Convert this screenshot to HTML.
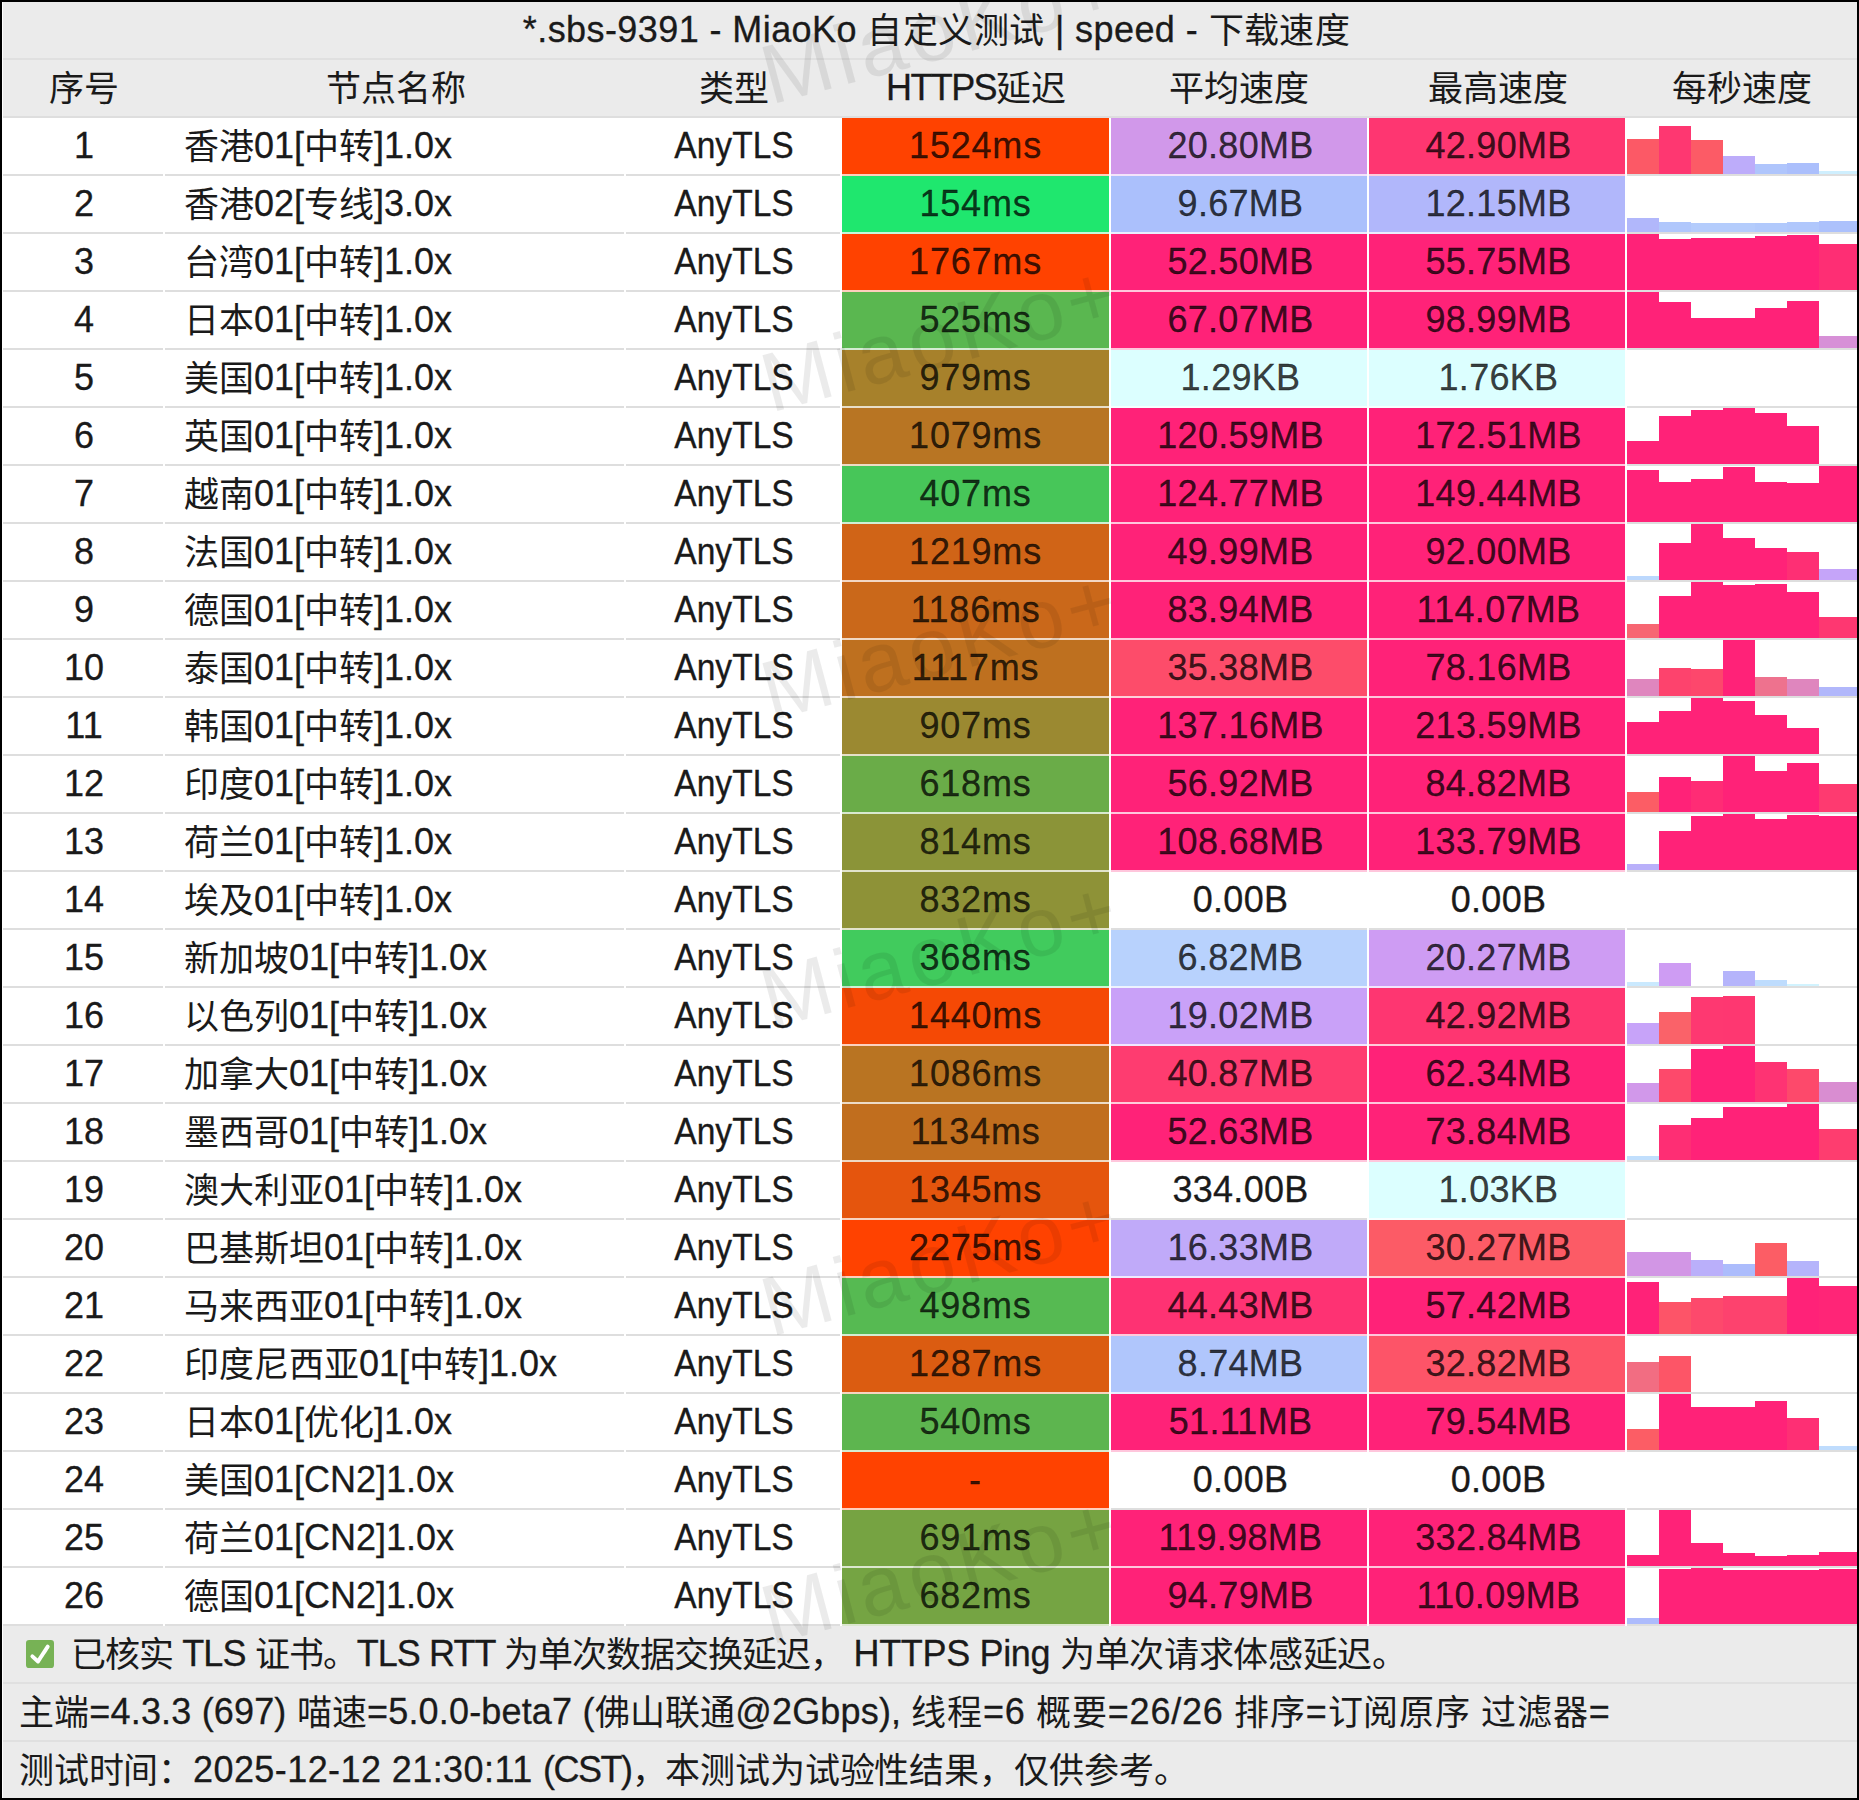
<!DOCTYPE html>
<html lang="zh-CN"><head><meta charset="utf-8"><title>MiaoKo speed</title>
<style>
*{box-sizing:border-box;margin:0;padding:0}
html,body{width:1859px;height:1800px;overflow:hidden;background:#000}
body{font-family:"Liberation Sans",sans-serif;font-size:36px;color:#1a1a1a;position:relative;-webkit-text-stroke:.3px}
.z{font-size:35px;position:relative;top:1px;-webkit-text-stroke:0}
#f{position:absolute;left:2px;top:2px;width:1855px;height:1796px;background:#fff;overflow:hidden}
.g{position:absolute;left:1px;right:0;background:#ebebeb}
.ln{position:absolute;left:1px;right:0;height:2px;background:#dedede}
.t{position:absolute;white-space:pre;height:56px;line-height:56px}
.c{text-align:center}
.cell{position:absolute;height:56px;line-height:56px;text-align:center;white-space:nowrap;font-size:36px;color:rgba(0,0,0,.77)}
.n{font-size:36px}
.ty{transform:scaleX(.933)}
.sp{position:absolute;height:56px;overflow:hidden}
.sp div{position:absolute;bottom:0}
.wm{-webkit-text-stroke:0;position:absolute;width:368px;height:84px;font-size:84px;letter-spacing:4.9px;color:rgba(0,0,0,.08);transform:rotate(-15deg);white-space:nowrap;line-height:84px}
</style></head><body>
<div id="f">
<div class="g" style="top:0;height:116px"></div>
<div class="g" style="top:1624px;height:172px"></div>
<div class="ln" style="top:56px;background:#e0e0e0"></div>
<div class="ln" style="top:114px;background:#dedede"></div>
<div class="t c" style="left:7px;width:1855px;top:0px;letter-spacing:.42px">*.sbs-9391 - MiaoKo <span class="z">自定义测试</span> | speed - <span class="z">下载速度</span></div>
<div class="t c" style="left:1px;width:162px;top:58px"><span class="z">序号</span></div>
<div class="t c" style="left:163px;width:461px;top:58px"><span class="z">节点名称</span></div>
<div class="t c" style="left:624px;width:216px;top:58px"><span class="z">类型</span></div>
<div class="t c" style="left:840px;width:268px;top:58px"><span style="letter-spacing:-1.6px">HTTPS</span><span class="z">延迟</span></div>
<div class="t c" style="left:1108px;width:258px;top:58px"><span class="z">平均速度</span></div>
<div class="t c" style="left:1366px;width:259px;top:58px"><span class="z">最高速度</span></div>
<div class="t c" style="left:1625px;width:230px;top:58px"><span class="z">每秒速度</span></div>
<div class="ln" style="top:172px"></div>
<div class="t c" style="left:1px;width:162px;top:116px">1</div>
<div class="t" style="left:182px;top:116px"><span class="z">香港</span>01[<span class="z">中转</span>]1.0x</div>
<div class="t c ty" style="left:624px;width:216px;top:116px">AnyTLS</div>
<div class="cell" style="left:840px;width:267px;top:116px;background:#ff4200;box-shadow:0 2px 0 #ffcebd;letter-spacing:.8px">1524ms</div>
<div class="cell" style="left:1109px;width:256px;top:116px;background:#d198ea;box-shadow:0 2px 0 #f3e4fa;letter-spacing:.3px;padding-left:3px">20.80MB</div>
<div class="cell" style="left:1367px;width:256px;top:116px;background:#fe3671;box-shadow:0 2px 0 #ffcbda;letter-spacing:.3px;padding-left:3px">42.90MB</div>
<div class="sp" style="left:1625px;width:230px;top:116px"><div style="left:0px;width:32px;height:35px;background:#fc5966"></div><div style="left:32px;width:32px;height:48px;background:#fe3771"></div><div style="left:64px;width:32px;height:34px;background:#fc5b66"></div><div style="left:96px;width:32px;height:18px;background:#bdacfa"></div><div style="left:128px;width:32px;height:10px;background:#afc5fc"></div><div style="left:160px;width:32px;height:11px;background:#abbffc"></div><div style="left:192px;width:38px;height:3px;background:#cfeffe"></div></div>
<div class="ln" style="top:230px"></div>
<div class="t c" style="left:1px;width:162px;top:174px">2</div>
<div class="t" style="left:182px;top:174px"><span class="z">香港</span>02[<span class="z">专线</span>]3.0x</div>
<div class="t c ty" style="left:624px;width:216px;top:174px">AnyTLS</div>
<div class="cell" style="left:840px;width:267px;top:174px;background:#1fe76e;box-shadow:0 2px 0 #c5f9d9;letter-spacing:.8px">154ms</div>
<div class="cell" style="left:1109px;width:256px;top:174px;background:#abc0fc;box-shadow:0 2px 0 #e9effe;letter-spacing:.3px;padding-left:3px">9.67MB</div>
<div class="cell" style="left:1367px;width:256px;top:174px;background:#b1b7fb;box-shadow:0 2px 0 #ebecfe;letter-spacing:.3px;padding-left:3px">12.15MB</div>
<div class="sp" style="left:1625px;width:230px;top:174px"><div style="left:0px;width:32px;height:14px;background:#b1b7fb"></div><div style="left:32px;width:32px;height:10px;background:#b0c7fc"></div><div style="left:64px;width:32px;height:9px;background:#b4ccfc"></div><div style="left:96px;width:32px;height:9px;background:#b4ccfc"></div><div style="left:128px;width:32px;height:9px;background:#b1c9fc"></div><div style="left:160px;width:32px;height:10px;background:#b0c7fc"></div><div style="left:192px;width:38px;height:11px;background:#acc1fc"></div></div>
<div class="ln" style="top:288px"></div>
<div class="t c" style="left:1px;width:162px;top:232px">3</div>
<div class="t" style="left:182px;top:232px"><span class="z">台湾</span>01[<span class="z">中转</span>]1.0x</div>
<div class="t c ty" style="left:624px;width:216px;top:232px">AnyTLS</div>
<div class="cell" style="left:840px;width:267px;top:232px;background:#ff4200;box-shadow:0 2px 0 #ffcebd;letter-spacing:.8px">1767ms</div>
<div class="cell" style="left:1109px;width:256px;top:232px;background:#ff2278;box-shadow:0 2px 0 #ffc6dc;letter-spacing:.3px;padding-left:3px">52.50MB</div>
<div class="cell" style="left:1367px;width:256px;top:232px;background:#ff2278;box-shadow:0 2px 0 #ffc6dc;letter-spacing:.3px;padding-left:3px">55.75MB</div>
<div class="sp" style="left:1625px;width:230px;top:232px"><div style="left:0px;width:32px;height:56px;background:#ff2278"></div><div style="left:32px;width:32px;height:51px;background:#ff2278"></div><div style="left:64px;width:32px;height:52px;background:#ff2278"></div><div style="left:96px;width:32px;height:52px;background:#ff2278"></div><div style="left:128px;width:32px;height:54px;background:#ff2278"></div><div style="left:160px;width:32px;height:55px;background:#ff2278"></div><div style="left:192px;width:38px;height:46px;background:#fe2e74"></div></div>
<div class="ln" style="top:346px"></div>
<div class="t c" style="left:1px;width:162px;top:290px">4</div>
<div class="t" style="left:182px;top:290px"><span class="z">日本</span>01[<span class="z">中转</span>]1.0x</div>
<div class="t c ty" style="left:624px;width:216px;top:290px">AnyTLS</div>
<div class="cell" style="left:840px;width:267px;top:290px;background:#5ab750;box-shadow:0 2px 0 #d4ecd2;letter-spacing:.8px">525ms</div>
<div class="cell" style="left:1109px;width:256px;top:290px;background:#ff2278;box-shadow:0 2px 0 #ffc6dc;letter-spacing:.3px;padding-left:3px">67.07MB</div>
<div class="cell" style="left:1367px;width:256px;top:290px;background:#ff2278;box-shadow:0 2px 0 #ffc6dc;letter-spacing:.3px;padding-left:3px">98.99MB</div>
<div class="sp" style="left:1625px;width:230px;top:290px"><div style="left:0px;width:32px;height:56px;background:#ff2278"></div><div style="left:32px;width:32px;height:46px;background:#ff2278"></div><div style="left:64px;width:32px;height:30px;background:#ff2278"></div><div style="left:96px;width:32px;height:30px;background:#ff2278"></div><div style="left:128px;width:32px;height:40px;background:#ff2278"></div><div style="left:160px;width:32px;height:47px;background:#ff2278"></div><div style="left:192px;width:38px;height:12px;background:#d790d7"></div></div>
<div class="ln" style="top:404px"></div>
<div class="t c" style="left:1px;width:162px;top:348px">5</div>
<div class="t" style="left:182px;top:348px"><span class="z">美国</span>01[<span class="z">中转</span>]1.0x</div>
<div class="t c ty" style="left:624px;width:216px;top:348px">AnyTLS</div>
<div class="cell" style="left:840px;width:267px;top:348px;background:#a7812b;box-shadow:0 2px 0 #e8dec8;letter-spacing:.8px">979ms</div>
<div class="cell" style="left:1109px;width:256px;top:348px;background:#dcffff;box-shadow:0 2px 0 #f6ffff;letter-spacing:.3px;padding-left:3px">1.29KB</div>
<div class="cell" style="left:1367px;width:256px;top:348px;background:#dcffff;box-shadow:0 2px 0 #f6ffff;letter-spacing:.3px;padding-left:3px">1.76KB</div>
<div class="ln" style="top:462px"></div>
<div class="t c" style="left:1px;width:162px;top:406px">6</div>
<div class="t" style="left:182px;top:406px"><span class="z">英国</span>01[<span class="z">中转</span>]1.0x</div>
<div class="t c ty" style="left:624px;width:216px;top:406px">AnyTLS</div>
<div class="cell" style="left:840px;width:267px;top:406px;background:#b87523;box-shadow:0 2px 0 #eddbc6;letter-spacing:.8px">1079ms</div>
<div class="cell" style="left:1109px;width:256px;top:406px;background:#ff2278;box-shadow:0 2px 0 #ffc6dc;letter-spacing:.3px;padding-left:3px">120.59MB</div>
<div class="cell" style="left:1367px;width:256px;top:406px;background:#ff2278;box-shadow:0 2px 0 #ffc6dc;letter-spacing:.3px;padding-left:3px">172.51MB</div>
<div class="sp" style="left:1625px;width:230px;top:406px"><div style="left:0px;width:32px;height:23px;background:#ff2278"></div><div style="left:32px;width:32px;height:48px;background:#ff2278"></div><div style="left:64px;width:32px;height:54px;background:#ff2278"></div><div style="left:96px;width:32px;height:56px;background:#ff2278"></div><div style="left:128px;width:32px;height:51px;background:#ff2278"></div><div style="left:160px;width:32px;height:38px;background:#ff2278"></div></div>
<div class="ln" style="top:520px"></div>
<div class="t c" style="left:1px;width:162px;top:464px">7</div>
<div class="t" style="left:182px;top:464px"><span class="z">越南</span>01[<span class="z">中转</span>]1.0x</div>
<div class="t c ty" style="left:624px;width:216px;top:464px">AnyTLS</div>
<div class="cell" style="left:840px;width:267px;top:464px;background:#47c659;box-shadow:0 2px 0 #cff0d4;letter-spacing:.8px">407ms</div>
<div class="cell" style="left:1109px;width:256px;top:464px;background:#ff2278;box-shadow:0 2px 0 #ffc6dc;letter-spacing:.3px;padding-left:3px">124.77MB</div>
<div class="cell" style="left:1367px;width:256px;top:464px;background:#ff2278;box-shadow:0 2px 0 #ffc6dc;letter-spacing:.3px;padding-left:3px">149.44MB</div>
<div class="sp" style="left:1625px;width:230px;top:464px"><div style="left:0px;width:32px;height:52px;background:#ff2278"></div><div style="left:32px;width:32px;height:40px;background:#ff2278"></div><div style="left:64px;width:32px;height:43px;background:#ff2278"></div><div style="left:96px;width:32px;height:55px;background:#ff2278"></div><div style="left:128px;width:32px;height:40px;background:#ff2278"></div><div style="left:160px;width:32px;height:39px;background:#ff2278"></div><div style="left:192px;width:38px;height:56px;background:#ff2278"></div></div>
<div class="ln" style="top:578px"></div>
<div class="t c" style="left:1px;width:162px;top:522px">8</div>
<div class="t" style="left:182px;top:522px"><span class="z">法国</span>01[<span class="z">中转</span>]1.0x</div>
<div class="t c ty" style="left:624px;width:216px;top:522px">AnyTLS</div>
<div class="cell" style="left:840px;width:267px;top:522px;background:#d06417;box-shadow:0 2px 0 #f3d7c3;letter-spacing:.8px">1219ms</div>
<div class="cell" style="left:1109px;width:256px;top:522px;background:#ff2278;box-shadow:0 2px 0 #ffc6dc;letter-spacing:.3px;padding-left:3px">49.99MB</div>
<div class="cell" style="left:1367px;width:256px;top:522px;background:#ff2278;box-shadow:0 2px 0 #ffc6dc;letter-spacing:.3px;padding-left:3px">92.00MB</div>
<div class="sp" style="left:1625px;width:230px;top:522px"><div style="left:0px;width:32px;height:4px;background:#bcd8fd"></div><div style="left:32px;width:32px;height:37px;background:#ff2278"></div><div style="left:64px;width:32px;height:56px;background:#ff2278"></div><div style="left:96px;width:32px;height:42px;background:#ff2278"></div><div style="left:128px;width:32px;height:32px;background:#ff2278"></div><div style="left:160px;width:32px;height:28px;background:#fe2f74"></div><div style="left:192px;width:38px;height:11px;background:#c5a4f9"></div></div>
<div class="ln" style="top:636px"></div>
<div class="t c" style="left:1px;width:162px;top:580px">9</div>
<div class="t" style="left:182px;top:580px"><span class="z">德国</span>01[<span class="z">中转</span>]1.0x</div>
<div class="t c ty" style="left:624px;width:216px;top:580px">AnyTLS</div>
<div class="cell" style="left:840px;width:267px;top:580px;background:#ca681a;box-shadow:0 2px 0 #f1d8c3;letter-spacing:.8px">1186ms</div>
<div class="cell" style="left:1109px;width:256px;top:580px;background:#ff2278;box-shadow:0 2px 0 #ffc6dc;letter-spacing:.3px;padding-left:3px">83.94MB</div>
<div class="cell" style="left:1367px;width:256px;top:580px;background:#ff2278;box-shadow:0 2px 0 #ffc6dc;letter-spacing:.3px;padding-left:3px">114.07MB</div>
<div class="sp" style="left:1625px;width:230px;top:580px"><div style="left:0px;width:32px;height:14px;background:#f76672"></div><div style="left:32px;width:32px;height:42px;background:#ff2278"></div><div style="left:64px;width:32px;height:56px;background:#ff2278"></div><div style="left:96px;width:32px;height:53px;background:#ff2278"></div><div style="left:128px;width:32px;height:54px;background:#ff2278"></div><div style="left:160px;width:32px;height:46px;background:#ff2278"></div><div style="left:192px;width:38px;height:21px;background:#fe3771"></div></div>
<div class="ln" style="top:694px"></div>
<div class="t c" style="left:1px;width:162px;top:638px">10</div>
<div class="t" style="left:182px;top:638px"><span class="z">泰国</span>01[<span class="z">中转</span>]1.0x</div>
<div class="t c ty" style="left:624px;width:216px;top:638px">AnyTLS</div>
<div class="cell" style="left:840px;width:267px;top:638px;background:#be701f;box-shadow:0 2px 0 #eedac5;letter-spacing:.8px">1117ms</div>
<div class="cell" style="left:1109px;width:256px;top:638px;background:#fd4c6a;box-shadow:0 2px 0 #fed0d8;letter-spacing:.3px;padding-left:3px">35.38MB</div>
<div class="cell" style="left:1367px;width:256px;top:638px;background:#ff2278;box-shadow:0 2px 0 #ffc6dc;letter-spacing:.3px;padding-left:3px">78.16MB</div>
<div class="sp" style="left:1625px;width:230px;top:638px"><div style="left:0px;width:32px;height:17px;background:#df86be"></div><div style="left:32px;width:32px;height:28px;background:#fd436d"></div><div style="left:64px;width:32px;height:27px;background:#fd476c"></div><div style="left:96px;width:32px;height:56px;background:#ff2278"></div><div style="left:128px;width:32px;height:19px;background:#ee728e"></div><div style="left:160px;width:32px;height:17px;background:#df86be"></div><div style="left:192px;width:38px;height:9px;background:#b1b7fb"></div></div>
<div class="ln" style="top:752px"></div>
<div class="t c" style="left:1px;width:162px;top:696px">11</div>
<div class="t" style="left:182px;top:696px"><span class="z">韩国</span>01[<span class="z">中转</span>]1.0x</div>
<div class="t c ty" style="left:624px;width:216px;top:696px">AnyTLS</div>
<div class="cell" style="left:840px;width:267px;top:696px;background:#9b8931;box-shadow:0 2px 0 #e5e0c9;letter-spacing:.8px">907ms</div>
<div class="cell" style="left:1109px;width:256px;top:696px;background:#ff2278;box-shadow:0 2px 0 #ffc6dc;letter-spacing:.3px;padding-left:3px">137.16MB</div>
<div class="cell" style="left:1367px;width:256px;top:696px;background:#ff2278;box-shadow:0 2px 0 #ffc6dc;letter-spacing:.3px;padding-left:3px">213.59MB</div>
<div class="sp" style="left:1625px;width:230px;top:696px"><div style="left:0px;width:32px;height:32px;background:#ff2278"></div><div style="left:32px;width:32px;height:43px;background:#ff2278"></div><div style="left:64px;width:32px;height:56px;background:#ff2278"></div><div style="left:96px;width:32px;height:53px;background:#ff2278"></div><div style="left:128px;width:32px;height:39px;background:#ff2278"></div><div style="left:160px;width:32px;height:26px;background:#ff2278"></div></div>
<div class="ln" style="top:810px"></div>
<div class="t c" style="left:1px;width:162px;top:754px">12</div>
<div class="t" style="left:182px;top:754px"><span class="z">印度</span>01[<span class="z">中转</span>]1.0x</div>
<div class="t c ty" style="left:624px;width:216px;top:754px">AnyTLS</div>
<div class="cell" style="left:840px;width:267px;top:754px;background:#6aac48;box-shadow:0 2px 0 #d8e9cf;letter-spacing:.8px">618ms</div>
<div class="cell" style="left:1109px;width:256px;top:754px;background:#ff2278;box-shadow:0 2px 0 #ffc6dc;letter-spacing:.3px;padding-left:3px">56.92MB</div>
<div class="cell" style="left:1367px;width:256px;top:754px;background:#ff2278;box-shadow:0 2px 0 #ffc6dc;letter-spacing:.3px;padding-left:3px">84.82MB</div>
<div class="sp" style="left:1625px;width:230px;top:754px"><div style="left:0px;width:32px;height:20px;background:#fc5d65"></div><div style="left:32px;width:32px;height:35px;background:#ff2278"></div><div style="left:64px;width:32px;height:31px;background:#ff2c75"></div><div style="left:96px;width:32px;height:56px;background:#ff2278"></div><div style="left:128px;width:32px;height:41px;background:#ff2278"></div><div style="left:160px;width:32px;height:49px;background:#ff2278"></div><div style="left:192px;width:38px;height:28px;background:#fe3a70"></div></div>
<div class="ln" style="top:868px"></div>
<div class="t c" style="left:1px;width:162px;top:812px">13</div>
<div class="t" style="left:182px;top:812px"><span class="z">荷兰</span>01[<span class="z">中转</span>]1.0x</div>
<div class="t c ty" style="left:624px;width:216px;top:812px">AnyTLS</div>
<div class="cell" style="left:840px;width:267px;top:812px;background:#8b9438;box-shadow:0 2px 0 #e1e3cb;letter-spacing:.8px">814ms</div>
<div class="cell" style="left:1109px;width:256px;top:812px;background:#ff2278;box-shadow:0 2px 0 #ffc6dc;letter-spacing:.3px;padding-left:3px">108.68MB</div>
<div class="cell" style="left:1367px;width:256px;top:812px;background:#ff2278;box-shadow:0 2px 0 #ffc6dc;letter-spacing:.3px;padding-left:3px">133.79MB</div>
<div class="sp" style="left:1625px;width:230px;top:812px"><div style="left:0px;width:32px;height:6px;background:#b9b0fa"></div><div style="left:32px;width:32px;height:39px;background:#ff2278"></div><div style="left:64px;width:32px;height:54px;background:#ff2278"></div><div style="left:96px;width:32px;height:56px;background:#ff2278"></div><div style="left:128px;width:32px;height:51px;background:#ff2278"></div><div style="left:160px;width:32px;height:55px;background:#ff2278"></div><div style="left:192px;width:38px;height:54px;background:#ff2278"></div></div>
<div class="ln" style="top:926px"></div>
<div class="t c" style="left:1px;width:162px;top:870px">14</div>
<div class="t" style="left:182px;top:870px"><span class="z">埃及</span>01[<span class="z">中转</span>]1.0x</div>
<div class="t c ty" style="left:624px;width:216px;top:870px">AnyTLS</div>
<div class="cell" style="left:840px;width:267px;top:870px;background:#8e9237;box-shadow:0 2px 0 #e2e3cb;letter-spacing:.8px">832ms</div>
<div class="cell" style="left:1109px;width:256px;top:870px;background:#ffffff;color:#1a1a1a;letter-spacing:.3px;padding-left:3px">0.00B</div>
<div class="cell" style="left:1367px;width:256px;top:870px;background:#ffffff;color:#1a1a1a;letter-spacing:.3px;padding-left:3px">0.00B</div>
<div class="ln" style="top:984px"></div>
<div class="t c" style="left:1px;width:162px;top:928px">15</div>
<div class="t" style="left:182px;top:928px"><span class="z">新加坡</span>01[<span class="z">中转</span>]1.0x</div>
<div class="t c ty" style="left:624px;width:216px;top:928px">AnyTLS</div>
<div class="cell" style="left:840px;width:267px;top:928px;background:#41cb5d;box-shadow:0 2px 0 #cef1d5;letter-spacing:.8px">368ms</div>
<div class="cell" style="left:1109px;width:256px;top:928px;background:#b8d2fd;box-shadow:0 2px 0 #edf3fe;letter-spacing:.3px;padding-left:3px">6.82MB</div>
<div class="cell" style="left:1367px;width:256px;top:928px;background:#ce9cf3;box-shadow:0 2px 0 #f2e5fc;letter-spacing:.3px;padding-left:3px">20.27MB</div>
<div class="sp" style="left:1625px;width:230px;top:928px"><div style="left:0px;width:32px;height:4px;background:#cae9fe"></div><div style="left:32px;width:32px;height:23px;background:#ce9cf3"></div><div style="left:96px;width:32px;height:15px;background:#b5b4fb"></div><div style="left:128px;width:32px;height:6px;background:#bedcfd"></div><div style="left:160px;width:32px;height:2px;background:#d2f3fe"></div></div>
<div class="ln" style="top:1042px"></div>
<div class="t c" style="left:1px;width:162px;top:986px">16</div>
<div class="t" style="left:182px;top:986px"><span class="z">以色列</span>01[<span class="z">中转</span>]1.0x</div>
<div class="t c ty" style="left:624px;width:216px;top:986px">AnyTLS</div>
<div class="cell" style="left:840px;width:267px;top:986px;background:#f54905;box-shadow:0 2px 0 #fcd0be;letter-spacing:.8px">1440ms</div>
<div class="cell" style="left:1109px;width:256px;top:986px;background:#c9a1f8;box-shadow:0 2px 0 #f1e7fd;letter-spacing:.3px;padding-left:3px">19.02MB</div>
<div class="cell" style="left:1367px;width:256px;top:986px;background:#fe3671;box-shadow:0 2px 0 #ffcbda;letter-spacing:.3px;padding-left:3px">42.92MB</div>
<div class="sp" style="left:1625px;width:230px;top:986px"><div style="left:0px;width:32px;height:21px;background:#c7a3f9"></div><div style="left:32px;width:32px;height:32px;background:#fa6269"></div><div style="left:64px;width:32px;height:47px;background:#fe3871"></div><div style="left:96px;width:32px;height:48px;background:#fe3771"></div></div>
<div class="ln" style="top:1100px"></div>
<div class="t c" style="left:1px;width:162px;top:1044px">17</div>
<div class="t" style="left:182px;top:1044px"><span class="z">加拿大</span>01[<span class="z">中转</span>]1.0x</div>
<div class="t c ty" style="left:624px;width:216px;top:1044px">AnyTLS</div>
<div class="cell" style="left:840px;width:267px;top:1044px;background:#b97422;box-shadow:0 2px 0 #eddbc6;letter-spacing:.8px">1086ms</div>
<div class="cell" style="left:1109px;width:256px;top:1044px;background:#fe3c70;box-shadow:0 2px 0 #ffccda;letter-spacing:.3px;padding-left:3px">40.87MB</div>
<div class="cell" style="left:1367px;width:256px;top:1044px;background:#ff2278;box-shadow:0 2px 0 #ffc6dc;letter-spacing:.3px;padding-left:3px">62.34MB</div>
<div class="sp" style="left:1625px;width:230px;top:1044px"><div style="left:0px;width:32px;height:19px;background:#d198ea"></div><div style="left:32px;width:32px;height:33px;background:#fd496b"></div><div style="left:64px;width:32px;height:53px;background:#ff2278"></div><div style="left:96px;width:32px;height:56px;background:#ff2278"></div><div style="left:128px;width:32px;height:40px;background:#fe3373"></div><div style="left:160px;width:32px;height:33px;background:#fd496b"></div><div style="left:192px;width:38px;height:20px;background:#d98dd1"></div></div>
<div class="ln" style="top:1158px"></div>
<div class="t c" style="left:1px;width:162px;top:1102px">18</div>
<div class="t" style="left:182px;top:1102px"><span class="z">墨西哥</span>01[<span class="z">中转</span>]1.0x</div>
<div class="t c ty" style="left:624px;width:216px;top:1102px">AnyTLS</div>
<div class="cell" style="left:840px;width:267px;top:1102px;background:#c16e1e;box-shadow:0 2px 0 #efd9c4;letter-spacing:.8px">1134ms</div>
<div class="cell" style="left:1109px;width:256px;top:1102px;background:#ff2278;box-shadow:0 2px 0 #ffc6dc;letter-spacing:.3px;padding-left:3px">52.63MB</div>
<div class="cell" style="left:1367px;width:256px;top:1102px;background:#ff2278;box-shadow:0 2px 0 #ffc6dc;letter-spacing:.3px;padding-left:3px">73.84MB</div>
<div class="sp" style="left:1625px;width:230px;top:1102px"><div style="left:0px;width:32px;height:4px;background:#c1dffd"></div><div style="left:32px;width:32px;height:35px;background:#fe2e74"></div><div style="left:64px;width:32px;height:42px;background:#ff2278"></div><div style="left:96px;width:32px;height:53px;background:#ff2278"></div><div style="left:128px;width:32px;height:53px;background:#ff2278"></div><div style="left:160px;width:32px;height:56px;background:#ff2278"></div><div style="left:192px;width:38px;height:31px;background:#fe3d6f"></div></div>
<div class="ln" style="top:1216px"></div>
<div class="t c" style="left:1px;width:162px;top:1160px">19</div>
<div class="t" style="left:182px;top:1160px"><span class="z">澳大利亚</span>01[<span class="z">中转</span>]1.0x</div>
<div class="t c ty" style="left:624px;width:216px;top:1160px">AnyTLS</div>
<div class="cell" style="left:840px;width:267px;top:1160px;background:#e5550d;box-shadow:0 2px 0 #f8d3c0;letter-spacing:.8px">1345ms</div>
<div class="cell" style="left:1109px;width:256px;top:1160px;background:#ffffff;color:#1a1a1a;letter-spacing:.3px;padding-left:3px">334.00B</div>
<div class="cell" style="left:1367px;width:256px;top:1160px;background:#dcffff;box-shadow:0 2px 0 #f6ffff;letter-spacing:.3px;padding-left:3px">1.03KB</div>
<div class="ln" style="top:1274px"></div>
<div class="t c" style="left:1px;width:162px;top:1218px">20</div>
<div class="t" style="left:182px;top:1218px"><span class="z">巴基斯坦</span>01[<span class="z">中转</span>]1.0x</div>
<div class="t c ty" style="left:624px;width:216px;top:1218px">AnyTLS</div>
<div class="cell" style="left:840px;width:267px;top:1218px;background:#ff4200;box-shadow:0 2px 0 #ffcebd;letter-spacing:.8px">2275ms</div>
<div class="cell" style="left:1109px;width:256px;top:1218px;background:#c0aaf9;box-shadow:0 2px 0 #efe9fd;letter-spacing:.3px;padding-left:3px">16.33MB</div>
<div class="cell" style="left:1367px;width:256px;top:1218px;background:#fc5b66;box-shadow:0 2px 0 #fed4d7;letter-spacing:.3px;padding-left:3px">30.27MB</div>
<div class="sp" style="left:1625px;width:230px;top:1218px"><div style="left:0px;width:32px;height:24px;background:#d296e5"></div><div style="left:32px;width:32px;height:24px;background:#d296e5"></div><div style="left:64px;width:32px;height:16px;background:#baaffa"></div><div style="left:96px;width:32px;height:12px;background:#acbcfc"></div><div style="left:128px;width:32px;height:33px;background:#fc5d65"></div><div style="left:160px;width:32px;height:15px;background:#b5b4fb"></div></div>
<div class="ln" style="top:1332px"></div>
<div class="t c" style="left:1px;width:162px;top:1276px">21</div>
<div class="t" style="left:182px;top:1276px"><span class="z">马来西亚</span>01[<span class="z">中转</span>]1.0x</div>
<div class="t c ty" style="left:624px;width:216px;top:1276px">AnyTLS</div>
<div class="cell" style="left:840px;width:267px;top:1276px;background:#56ba52;box-shadow:0 2px 0 #d3edd2;letter-spacing:.8px">498ms</div>
<div class="cell" style="left:1109px;width:256px;top:1276px;background:#fe3273;box-shadow:0 2px 0 #ffcadb;letter-spacing:.3px;padding-left:3px">44.43MB</div>
<div class="cell" style="left:1367px;width:256px;top:1276px;background:#ff2278;box-shadow:0 2px 0 #ffc6dc;letter-spacing:.3px;padding-left:3px">57.42MB</div>
<div class="sp" style="left:1625px;width:230px;top:1276px"><div style="left:0px;width:32px;height:52px;background:#ff2278"></div><div style="left:32px;width:32px;height:32px;background:#fd5468"></div><div style="left:64px;width:32px;height:36px;background:#fd496c"></div><div style="left:96px;width:32px;height:38px;background:#fd426e"></div><div style="left:128px;width:32px;height:38px;background:#fd426e"></div><div style="left:160px;width:32px;height:56px;background:#ff2278"></div><div style="left:192px;width:38px;height:48px;background:#ff2577"></div></div>
<div class="ln" style="top:1390px"></div>
<div class="t c" style="left:1px;width:162px;top:1334px">22</div>
<div class="t" style="left:182px;top:1334px"><span class="z">印度尼西亚</span>01[<span class="z">中转</span>]1.0x</div>
<div class="t c ty" style="left:624px;width:216px;top:1334px">AnyTLS</div>
<div class="cell" style="left:840px;width:267px;top:1334px;background:#db5c11;box-shadow:0 2px 0 #f6d5c1;letter-spacing:.8px">1287ms</div>
<div class="cell" style="left:1109px;width:256px;top:1334px;background:#b0c6fc;box-shadow:0 2px 0 #eaf0fe;letter-spacing:.3px;padding-left:3px">8.74MB</div>
<div class="cell" style="left:1367px;width:256px;top:1334px;background:#fd5468;box-shadow:0 2px 0 #fed3d8;letter-spacing:.3px;padding-left:3px">32.82MB</div>
<div class="sp" style="left:1625px;width:230px;top:1334px"><div style="left:0px;width:32px;height:30px;background:#f26d82"></div><div style="left:32px;width:32px;height:36px;background:#fd5567"></div></div>
<div class="ln" style="top:1448px"></div>
<div class="t c" style="left:1px;width:162px;top:1392px">23</div>
<div class="t" style="left:182px;top:1392px"><span class="z">日本</span>01[<span class="z">优化</span>]1.0x</div>
<div class="t c ty" style="left:624px;width:216px;top:1392px">AnyTLS</div>
<div class="cell" style="left:840px;width:267px;top:1392px;background:#5db54f;box-shadow:0 2px 0 #d5ecd1;letter-spacing:.8px">540ms</div>
<div class="cell" style="left:1109px;width:256px;top:1392px;background:#ff2278;box-shadow:0 2px 0 #ffc6dc;letter-spacing:.3px;padding-left:3px">51.11MB</div>
<div class="cell" style="left:1367px;width:256px;top:1392px;background:#ff2278;box-shadow:0 2px 0 #ffc6dc;letter-spacing:.3px;padding-left:3px">79.54MB</div>
<div class="sp" style="left:1625px;width:230px;top:1392px"><div style="left:0px;width:32px;height:21px;background:#fc5d65"></div><div style="left:32px;width:32px;height:56px;background:#ff2278"></div><div style="left:64px;width:32px;height:43px;background:#ff2278"></div><div style="left:96px;width:32px;height:43px;background:#ff2278"></div><div style="left:128px;width:32px;height:49px;background:#ff2278"></div><div style="left:160px;width:32px;height:32px;background:#fe2f74"></div><div style="left:192px;width:38px;height:4px;background:#bfdcfd"></div></div>
<div class="ln" style="top:1506px"></div>
<div class="t c" style="left:1px;width:162px;top:1450px">24</div>
<div class="t" style="left:182px;top:1450px"><span class="z">美国</span>01[CN2]1.0x</div>
<div class="t c ty" style="left:624px;width:216px;top:1450px">AnyTLS</div>
<div class="cell" style="left:840px;width:267px;top:1450px;background:#ff4200;box-shadow:0 2px 0 #ffcebd;letter-spacing:.8px">-</div>
<div class="cell" style="left:1109px;width:256px;top:1450px;background:#ffffff;color:#1a1a1a;letter-spacing:.3px;padding-left:3px">0.00B</div>
<div class="cell" style="left:1367px;width:256px;top:1450px;background:#ffffff;color:#1a1a1a;letter-spacing:.3px;padding-left:3px">0.00B</div>
<div class="ln" style="top:1564px"></div>
<div class="t c" style="left:1px;width:162px;top:1508px">25</div>
<div class="t" style="left:182px;top:1508px"><span class="z">荷兰</span>01[CN2]1.0x</div>
<div class="t c ty" style="left:624px;width:216px;top:1508px">AnyTLS</div>
<div class="cell" style="left:840px;width:267px;top:1508px;background:#76a342;box-shadow:0 2px 0 #dbe7ce;letter-spacing:.8px">691ms</div>
<div class="cell" style="left:1109px;width:256px;top:1508px;background:#ff2278;box-shadow:0 2px 0 #ffc6dc;letter-spacing:.3px;padding-left:3px">119.98MB</div>
<div class="cell" style="left:1367px;width:256px;top:1508px;background:#ff2278;box-shadow:0 2px 0 #ffc6dc;letter-spacing:.3px;padding-left:3px">332.84MB</div>
<div class="sp" style="left:1625px;width:230px;top:1508px"><div style="left:0px;width:32px;height:11px;background:#ff2278"></div><div style="left:32px;width:32px;height:56px;background:#ff2278"></div><div style="left:64px;width:32px;height:23px;background:#ff2278"></div><div style="left:96px;width:32px;height:13px;background:#ff2278"></div><div style="left:128px;width:32px;height:10px;background:#ff2278"></div><div style="left:160px;width:32px;height:11px;background:#ff2278"></div><div style="left:192px;width:38px;height:14px;background:#ff2278"></div></div>
<div class="ln" style="top:1622px"></div>
<div class="t c" style="left:1px;width:162px;top:1566px">26</div>
<div class="t" style="left:182px;top:1566px"><span class="z">德国</span>01[CN2]1.0x</div>
<div class="t c ty" style="left:624px;width:216px;top:1566px">AnyTLS</div>
<div class="cell" style="left:840px;width:267px;top:1566px;background:#75a443;box-shadow:0 2px 0 #dbe7ce;letter-spacing:.8px">682ms</div>
<div class="cell" style="left:1109px;width:256px;top:1566px;background:#ff2278;box-shadow:0 2px 0 #ffc6dc;letter-spacing:.3px;padding-left:3px">94.79MB</div>
<div class="cell" style="left:1367px;width:256px;top:1566px;background:#ff2278;box-shadow:0 2px 0 #ffc6dc;letter-spacing:.3px;padding-left:3px">110.09MB</div>
<div class="sp" style="left:1625px;width:230px;top:1566px"><div style="left:0px;width:32px;height:6px;background:#adbbfc"></div><div style="left:32px;width:32px;height:55px;background:#ff2278"></div><div style="left:64px;width:32px;height:56px;background:#ff2278"></div><div style="left:96px;width:32px;height:54px;background:#ff2278"></div><div style="left:128px;width:32px;height:54px;background:#ff2278"></div><div style="left:160px;width:32px;height:54px;background:#ff2278"></div><div style="left:192px;width:38px;height:55px;background:#ff2278"></div></div>
<div style="position:absolute;left:161px;width:2px;top:116px;height:1508px;background:#fff"></div>
<div style="position:absolute;left:622px;width:2px;top:116px;height:1508px;background:#fff"></div>
<div style="position:absolute;left:838px;width:2px;top:116px;height:1508px;background:#fff"></div>
<div style="position:absolute;left:1107px;width:2px;top:116px;height:1508px;background:#fff"></div>
<div style="position:absolute;left:1365px;width:2px;top:116px;height:1508px;background:#fff"></div>
<div style="position:absolute;left:1623px;width:2px;top:116px;height:1508px;background:#fff"></div>
<div class="ln" style="top:1680px;background:#e0e0e0"></div>
<div class="ln" style="top:1738px;background:#e0e0e0"></div>
<svg style="position:absolute;left:24px;top:1638px" width="28" height="28" viewBox="0 0 36 36"><path fill="#77b255" d="M36 32a4 4 0 0 1-4 4H4a4 4 0 0 1-4-4V4a4 4 0 0 1 4-4h28a4 4 0 0 1 4 4v28z"/><path fill="#fff" d="M29.28 6.362a2.502 2.502 0 0 0-3.458.736L14.936 23.877l-5.029-4.65a2.5 2.5 0 1 0-3.394 3.671l7.209 6.666c.48.445 1.09.665 1.696.665.673 0 1.534-.282 2.099-1.139.332-.506 12.5-19.27 12.5-19.27a2.5 2.5 0 0 0-.737-3.458z"/></svg>
<div class="t" style="left:69px;top:1624px"><span style="letter-spacing:-0.94px"><span class="z">已核实</span> TLS <span class="z">证书。</span>TLS RTT <span class="z">为单次数据交换延迟，</span> </span><span style="letter-spacing:-0.34px">HTTPS Ping <span class="z">为单次请求体感延迟。</span></span></div>
<div class="t" style="left:17px;top:1682px"><span style="letter-spacing:0.17px"><span class="z">主端</span>=4.3.3 (697) <span class="z">喵速</span>=5.0.0-beta7 (<span class="z">佛山联通</span>@2Gbps), </span><span style="letter-spacing:0.76px"><span class="z">线程</span>=6 <span class="z">概要</span>=26/26 <span class="z">排序</span>=<span class="z">订阅原序</span> <span class="z">过滤器</span>=</span></div>
<div class="t" style="left:17px;top:1740px"><span style="letter-spacing:-0.2px"><span class="z">测试时间：</span></span><span style="letter-spacing:0.42px">2025-12-12 21:30:11 </span><span style="letter-spacing:-1.5px">(CST)<span class="z">，</span></span><span style="letter-spacing:-0.1px"><span class="z">本测试为试验性结果，仅供参考。</span></span></div>
<div class="wm" style="left:755px;top:-15.5px">MiaoKo+</div>
<div class="wm" style="left:755px;top:292.5px">MiaoKo+</div>
<div class="wm" style="left:755px;top:600.5px">MiaoKo+</div>
<div class="wm" style="left:755px;top:908.5px">MiaoKo+</div>
<div class="wm" style="left:755px;top:1216.5px">MiaoKo+</div>
<div class="wm" style="left:755px;top:1524.5px">MiaoKo+</div>
</div>
</body></html>
